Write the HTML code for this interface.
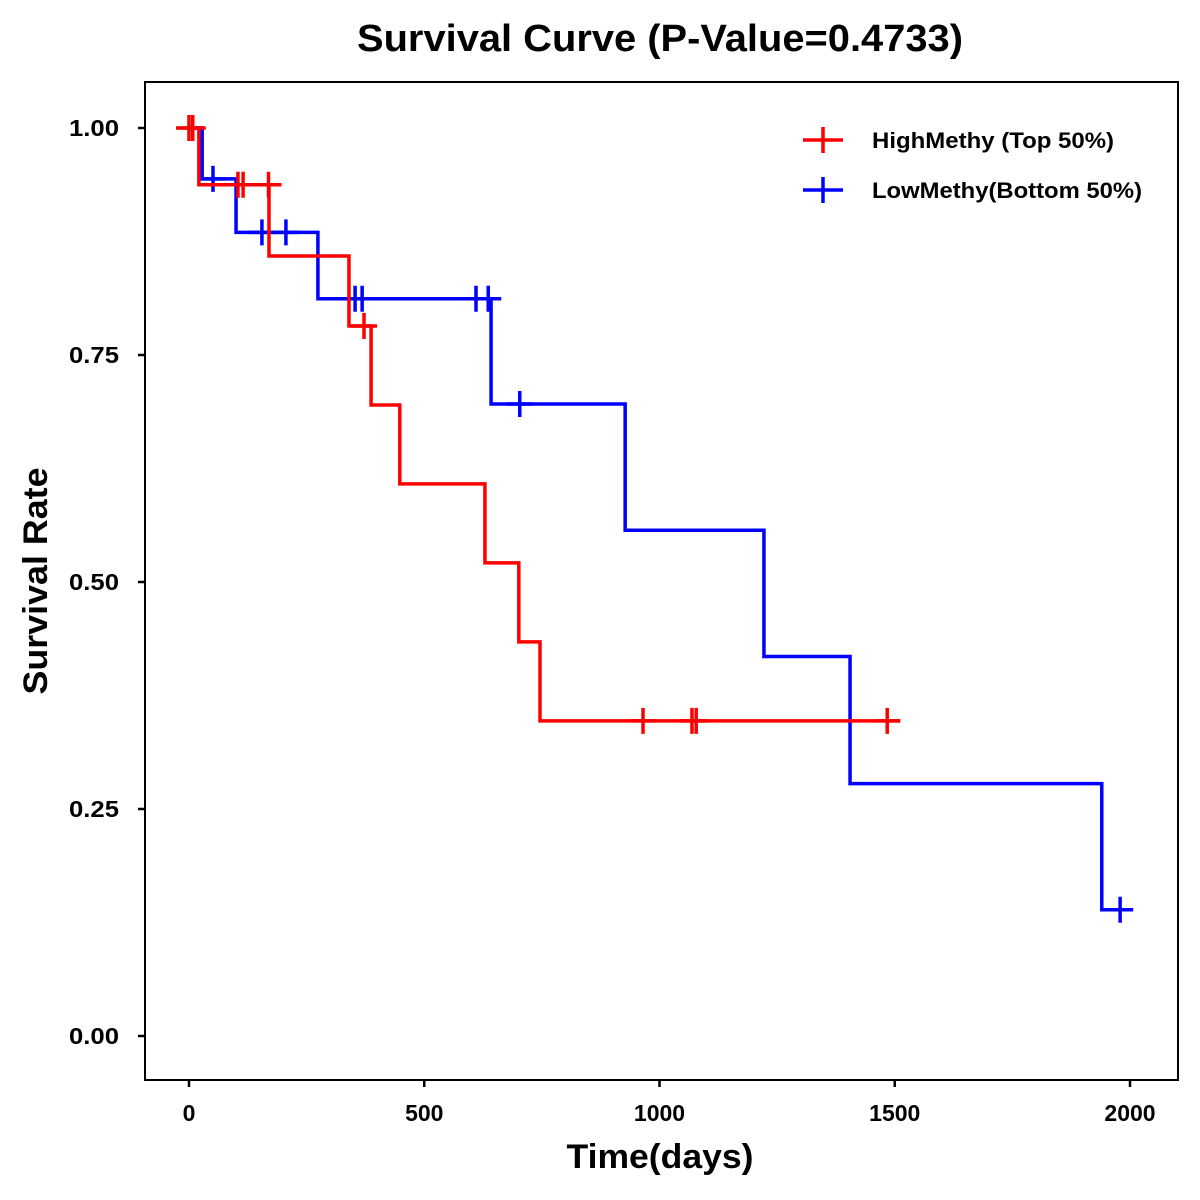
<!DOCTYPE html>
<html><head><meta charset="utf-8"><style>
html,body{margin:0;padding:0;background:#fff;}
svg{display:block;font-family:"Liberation Sans",Arial,sans-serif;font-weight:bold;}
</style></head><body>
<svg id="chart" width="1200" height="1200" viewBox="0 0 1200 1200">
<rect x="0" y="0" width="1200" height="1200" fill="#fff"/>
<text x="660" y="51" font-size="38" text-anchor="middle" textLength="606" lengthAdjust="spacingAndGlyphs">Survival Curve (P-Value=0.4733)</text>
<rect x="145" y="82" width="1033" height="998" fill="none" stroke="#000" stroke-width="2"/>
<g id="yaxis"></g>
<g id="xaxis"></g>
<g id="series"></g>
<text x="660" y="1168" font-size="34" text-anchor="middle" textLength="187" lengthAdjust="spacingAndGlyphs">Time(days)</text>
<text transform="translate(47,581) rotate(-90)" font-size="34" text-anchor="middle" textLength="227" lengthAdjust="spacingAndGlyphs">Survival Rate</text>
<g>
<g>
<line x1="803" y1="140" x2="843" y2="140" stroke="#f00" stroke-width="3.5"/>
<line x1="823" y1="127" x2="823" y2="153" stroke="#f00" stroke-width="3.5"/>
<text x="872" y="148" font-size="22" textLength="242" lengthAdjust="spacingAndGlyphs">HighMethy (Top 50%)</text>
</g>
<g>
<line x1="803" y1="190" x2="843" y2="190" stroke="#00f" stroke-width="3.5"/>
<line x1="823" y1="177" x2="823" y2="203" stroke="#00f" stroke-width="3.5"/>
<text x="872" y="198" font-size="22" textLength="270" lengthAdjust="spacingAndGlyphs">LowMethy(Bottom 50%)</text>
</g>
</g>
</svg>
<script>
const xTicks = [0, 500, 1000, 1500, 2000];
const yTicks = [0, 0.25, 0.5, 0.75, 1.0];
const yTickLabels = ["0.00", "0.25", "0.50", "0.75", "1.00"];
const highTimes = [21, 170, 340, 387, 448, 629, 701, 746];
const highSurv = [0.9375, 0.859, 0.782, 0.695, 0.608, 0.521, 0.434, 0.347];
const highCensor = [0, 8, 104, 115, 169, 372, 965, 1069, 1078, 1484];
const lowTimes = [28, 100, 274, 642, 927, 1222, 1405, 1940];
const lowSurv = [0.944, 0.885, 0.812, 0.696, 0.557, 0.418, 0.278, 0.139];
const lowCensor = [51, 155, 206, 353, 368, 610, 636, 703, 1979];

const NS = "http://www.w3.org/2000/svg";
const xs = t => 189 + t * (1130 - 189) / 2000;
const ys = v => 1036 - v * (1036 - 128);
function mk(tag, attrs, parent) {
  const e = document.createElementNS(NS, tag);
  for (const k in attrs) e.setAttribute(k, attrs[k]);
  parent.appendChild(e);
  return e;
}
const yax = document.getElementById('yaxis');
yTicks.forEach((v, i) => {
  const l = mk('line', {x1: 138, x2: 145, y1: ys(v), y2: ys(v), stroke: '#000', 'stroke-width': 2.5}, yax);
  
  
  const t = mk('text', {x: 119, y: ys(v) + 8, 'font-size': 23, 'text-anchor': 'end', textLength: 50, lengthAdjust: 'spacingAndGlyphs'}, yax);
  t.textContent = yTickLabels[i];
  
  
});
const xax = document.getElementById('xaxis');
xTicks.forEach(v => {
  const l = mk('line', {x1: xs(v), x2: xs(v), y1: 1080, y2: 1087, stroke: '#000', 'stroke-width': 2.5}, xax);
  
  
  const t = mk('text', {x: xs(v), y: 1121, 'font-size': 23, 'text-anchor': 'middle'}, xax);
  t.textContent = String(v);
  
  
});
function survAt(times, surv, t) {
  let s = 1;
  for (let i = 0; i < times.length; i++) if (times[i] <= t) s = surv[i];
  return s;
}
const sg = document.getElementById('series');
function drawSeries(times, surv, cens, color, name) {
  const g = mk('g', {}, sg);
  
  
  const endT = Math.max(times[times.length - 1], cens[cens.length - 1]);
  let d = 'M' + xs(0) + ',' + ys(1);
  for (let i = 0; i < times.length; i++) {
    d += ' H' + xs(times[i]) + ' V' + ys(surv[i]);
  }
  d += ' H' + (xs(endT) + 13);
  const p = mk('path', {d: d, fill: 'none', stroke: color, 'stroke-width': 3.5}, g);
  
  
  cens.forEach(c => {
    const cx = xs(c), cy = ys(survAt(times, surv, c));
    const m = mk('path', {d: 'M' + (cx - 13) + ',' + cy + ' H' + (cx + 13) + ' M' + cx + ',' + (cy - 13) + ' V' + (cy + 13), stroke: color, 'stroke-width': 3.5, fill: 'none'}, g);
    
    
  });
}
drawSeries(lowTimes, lowSurv, lowCensor, '#00f', 'low-methy-curve');
drawSeries(highTimes, highSurv, highCensor, '#f00', 'high-methy-curve');
</script>
</body></html>
